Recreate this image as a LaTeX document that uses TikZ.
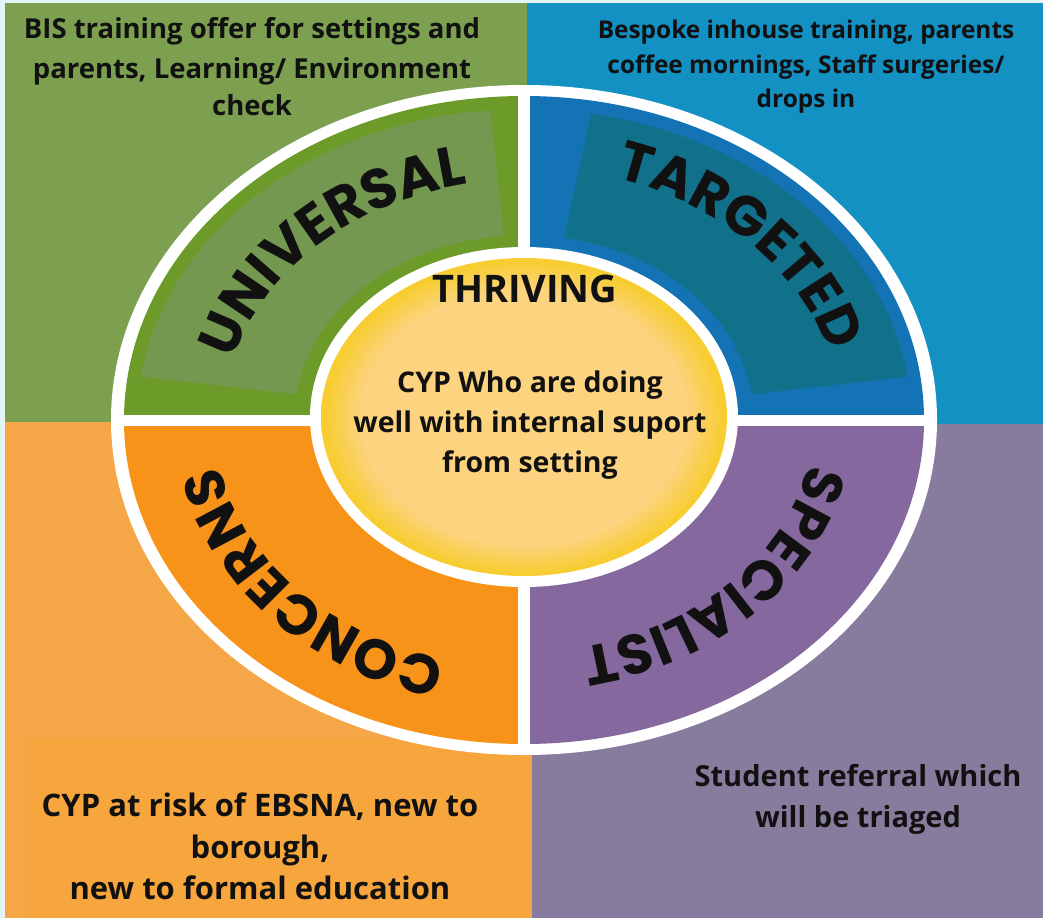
\documentclass[tikz,border=0pt]{standalone}
\usepackage{fontspec}
\setmainfont{Open Sans}
\newfontfamily\labelfont{Poppins}
\usetikzlibrary{decorations.text,calc}
\definecolor{bgG}{HTML}{7DA050}
\definecolor{bgB}{HTML}{1491C3}
\definecolor{bgO}{HTML}{F5A646}
\definecolor{bgOb}{HTML}{F7A63E}
\definecolor{bgP}{HTML}{887C9E}
\definecolor{rgG}{HTML}{6C9B2A}
\definecolor{rgB}{HTML}{1473B4}
\definecolor{rgO}{HTML}{F8931A}
\definecolor{rgP}{HTML}{84689E}
\definecolor{bandG}{HTML}{74984F}
\definecolor{bandB}{HTML}{11708A}
\definecolor{yrim}{HTML}{F7CD32}
\definecolor{ylight}{HTML}{FCD37F}
\definecolor{edgec}{HTML}{E4F3F6}
\definecolor{ink}{HTML}{111111}
\pgfdeclareradialshading{yelshade}{\pgfpoint{0bp}{0bp}}{color(0bp)=(ylight); color(20bp)=(ylight); color(24.5bp)=(yrim); color(50bp)=(yrim)}
\begin{document}
\begin{tikzpicture}[x=1pt,y=1pt,
  txt/.style={font=\bfseries, text=ink, inner sep=0pt, anchor=base},
  tl/.style={txt, font=\bfseries\fontsize{27.5}{30}\selectfont},
  tr/.style={txt, font=\bfseries\fontsize{24.4}{26}\selectfont},
  bl/.style={txt, font=\bfseries\fontsize{31}{33}\selectfont},
  br/.style={txt, font=\bfseries\fontsize{29}{33}\selectfont},
  ctitle/.style={txt, font=\bfseries\fontsize{38}{40}\selectfont},
  cbody/.style={txt, font=\bfseries\fontsize{28.5}{30}\selectfont},
  ringlabel/.style={decorate, decoration={text along path, text align=center, text color=ink,
     text={|\labelfont\bfseries\fontsize{56}{56}\selectfont|#1}}}
]
\useasboundingbox (0,0) rectangle (1043,-918);
\fill[edgec] (0,0) rectangle (1043,-918);
% background quadrants
\fill[bgG] (5,-3) rectangle (527,-422);
\fill[bgB] (527,-3) rectangle (1043,-424);
\fill[bgO] (5,-422) rectangle (532,-918);
\fill[bgP] (532,-424) rectangle (1043,-918);
\fill[bgOb] (30,-738) rectangle (527,-918);
\coordinate (c) at (524,-420);
\coordinate (ci) at (524,-417);
% outer white ellipse
\fill[white] (c) ellipse [x radius=413pt, y radius=335pt];
\begin{scope}
  \clip (c) ellipse [x radius=400pt, y radius=324pt];
  \fill[rgG] (0,0) rectangle (518,-415);
  \fill[rgB] (530,0) rectangle (1043,-415);
  \fill[rgO] (0,-426) rectangle (518,-918);
  \fill[rgP] (530,-426) rectangle (1043,-918);
  \fill[bandG] ($(c)+(95:387pt and 311pt)$) arc[start angle=95, end angle=172, x radius=387pt, y radius=311pt]
     -- ($(c)+(172:230pt and 185pt)$) arc[start angle=172, end angle=95, x radius=230pt, y radius=185pt] -- cycle;
  \fill[bandB] ($(c)+(80:387pt and 311pt)$) arc[start angle=80, end angle=8, x radius=387pt, y radius=311pt]
     -- ($(c)+(8:230pt and 185pt)$) arc[start angle=8, end angle=80, x radius=230pt, y radius=185pt] -- cycle;
\end{scope}
% inner circle
\fill[white] (ci) ellipse [x radius=214pt, y radius=170pt];
\shade[shading=yelshade] (ci) ellipse [x radius=203pt, y radius=159pt];
% ring labels
\path[ringlabel=UNIVERSAL] ($(c)+(185:300pt and 240pt)$) arc[start angle=185, end angle=85, x radius=300pt, y radius=240pt];
\path[ringlabel=TARGETED] ($(c)+(92:316pt and 253pt)$) arc[start angle=92, end angle=-8, x radius=316pt, y radius=253pt];
\path[ringlabel=SPECIALIST] ($(c)+(7:290pt and 232pt)$) arc[start angle=7, end angle=-93, x radius=290pt, y radius=232pt];
\path[ringlabel=CONCERNS] ($(c)+(-89:310pt and 248pt)$) arc[start angle=-89, end angle=-189, x radius=310pt, y radius=248pt];
% corner texts
\node[tl] (tl1) at (252,-38) {BIS training offer for settings and};
\node[tl] (tl2) at (252,-78) {parents, Learning/ Environment};
\node[tl] (tl3) at (252,-115) {check};
\node[tr] (tr1) at (806,-38) {Bespoke inhouse training, parents};
\node[tr] (tr2) at (806,-73) {coffee mornings, Staff surgeries/};
\node[tr] (tr3) at (806,-107) {drops in};
\node[bl] (bl1) at (260,-816) {CYP at risk of EBSNA, new to};
\node[bl] (bl2) at (260,-858) {borough,};
\node[bl] (bl3) at (260,-899) {new to formal education};
\node[br] (br1) at (858,-786) {Student referral which};
\node[br] (br2) at (858,-827) {will be triaged};
% centre
\node[ctitle] (th) at (525,-302) {THRIVING};
\node[cbody] (cb1) at (530,-392) {CYP Who are doing};
\node[cbody] (cb2) at (530,-432) {well with internal suport};
\node[cbody] (cb3) at (530,-472) {from setting};
\end{tikzpicture}
\end{document}
